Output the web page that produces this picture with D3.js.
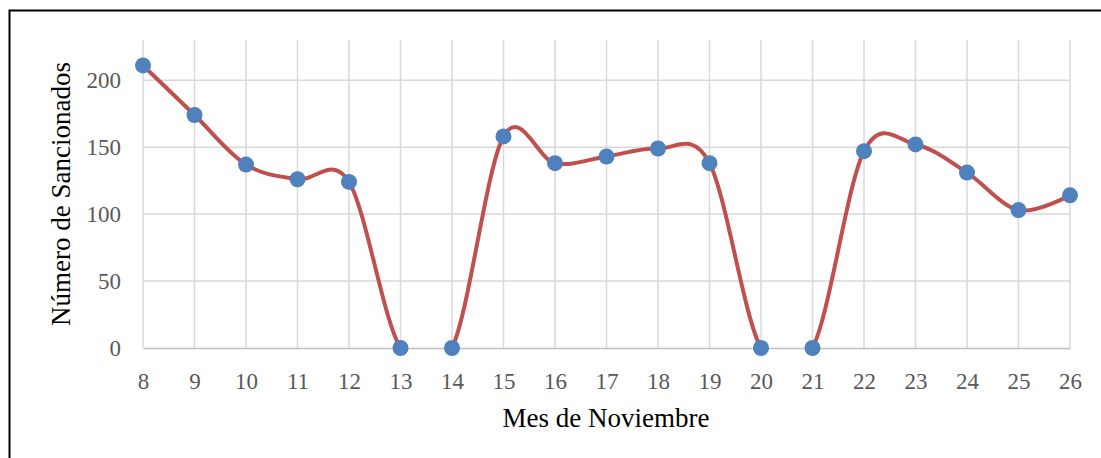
<!DOCTYPE html>
<html>
<head>
<meta charset="utf-8">
<script src="https://cdn.jsdelivr.net/npm/d3@7"></script>
<style>
  body { margin: 0; background: #fff; }
  svg { display: block; }
</style>
</head>
<body>
<div id="chart"></div>
<script>
// dias de noviembre y sancionados por dia
var dias = [8, 9, 10, 11, 12, 13, 14, 15, 16, 17, 18, 19, 20, 21, 22, 23, 24, 25, 26]
var sancionados = [211, 174, 137, 126, 124, 0, 0, 158, 138, 143, 149, 138, 0, 0, 147, 152, 131, 103, 114]
var yTicks = [0, 50, 100, 150, 200]

var W = 1101, H = 458
var margin = {top: 40, left: 143, right: 1101 - 1070, bottom: 458 - 348}
var width = W - margin.left - margin.right,
    height = H - margin.top - margin.bottom

var svg = d3.select("#chart").append("svg")
    .attr("width", W)
    .attr("height", H)

// marco
svg.append("rect")
    .attr("x", 9.5).attr("y", 10.5)
    .attr("width", 1200).attr("height", 600)
    .attr("fill", "none")
    .attr("stroke", "#000")
    .attr("stroke-width", 2)

// recorte del area de trazado (como en Excel)
svg.append("defs").append("clipPath")
    .attr("id", "plotClip")
  .append("rect")
    .attr("x", -5).attr("y", -5)
    .attr("width", width + 10).attr("height", height + 5)

var g = svg.append("g")
    .attr("transform", "translate(" + margin.left + "," + margin.top + ")")

var x = d3.scaleLinear().domain([8, 26]).range([0, width])
var y = d3.scaleLinear().domain([0, 230]).range([height, 0])

// rejilla vertical
g.selectAll(".vgrid").data(dias).enter().append("line")
    .attr("x1", d => x(d)).attr("x2", d => x(d))
    .attr("y1", 0).attr("y2", height)
    .attr("stroke", "#d9d9d9").attr("stroke-width", 1.5)

// rejilla horizontal
g.selectAll(".hgrid").data(yTicks.filter(d => d > 0)).enter().append("line")
    .attr("x1", 0).attr("x2", width)
    .attr("y1", d => y(d)).attr("y2", d => y(d))
    .attr("stroke", "#d9d9d9").attr("stroke-width", 1.5)

// eje x
var xAxis = g.append("g")
    .attr("transform", "translate(0," + height + ")")
    .call(d3.axisBottom(x).tickValues(dias).tickFormat(d3.format("d")).tickSize(0).tickPadding(25))
xAxis.select(".domain").attr("stroke", "#bfbfbf").attr("stroke-width", 1.5)

var yAxis = g.append("g")
    .call(d3.axisLeft(y).tickValues(yTicks).tickSize(0).tickPadding(22))
yAxis.select(".domain").remove()

g.selectAll(".tick text")
    .attr("font-family", "'Liberation Serif', serif")
    .attr("font-size", 23)
    .attr("fill", "#595959")

var line = d3.line()
    .x((d, i) => x(dias[i]))
    .y(d => y(d))
    .curve(d3.curveCardinal.tension(0))

g.append("path")
    .datum(sancionados)
    .attr("clip-path", "url(#plotClip)")
    .attr("fill", "none")
    .attr("stroke", "#c0504d")
    .attr("stroke-width", 4)
    .attr("d", line)

g.selectAll(".pt").data(sancionados).enter().append("circle")
    .attr("cx", (d, i) => x(dias[i]))
    .attr("cy", d => y(d))
    .attr("r", 8)
    .attr("fill", "#4f81bd")

svg.append("text")
    .attr("x", 606).attr("y", 427)
    .attr("text-anchor", "middle")
    .attr("font-family", "'Liberation Serif', serif")
    .attr("font-size", 27)
    .attr("fill", "#000")
    .text("Mes de Noviembre")

svg.append("text")
    .attr("transform", "translate(70,194) rotate(-90)")
    .attr("text-anchor", "middle")
    .attr("font-family", "'Liberation Serif', serif")
    .attr("font-size", 27)
    .attr("fill", "#000")
    .text("Número de Sancionados")
</script>
</body>
</html>
